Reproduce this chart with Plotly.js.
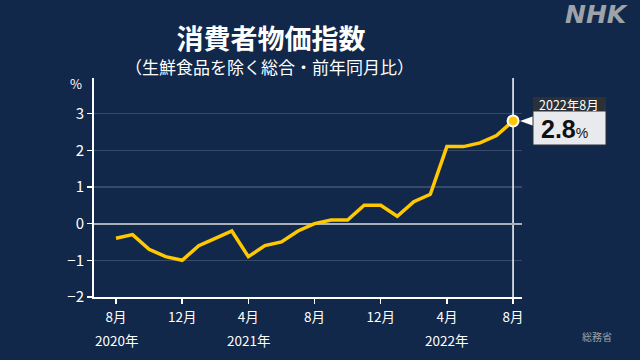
<!DOCTYPE html>
<html>
<head>
<meta charset="utf-8">
<script src="https://cdn.plot.ly/plotly-3.0.1.min.js"></script>
<style>html,body{margin:0;padding:0;background:#11284a;}#chart{width:640px;height:360px;}</style>
</head>
<body>
<div id="chart"></div>
<script>
// Data
var months = ["2020-08","2020-09","2020-10","2020-11","2020-12",
              "2021-01","2021-02","2021-03","2021-04","2021-05","2021-06","2021-07","2021-08","2021-09","2021-10","2021-11","2021-12",
              "2022-01","2022-02","2022-03","2022-04","2022-05","2022-06","2022-07","2022-08"];
var cpi = [-0.4,-0.3,-0.7,-0.9,-1.0,
           -0.6,-0.4,-0.2,-0.9,-0.6,-0.5,-0.2,0.0,0.1,0.1,0.5,0.5,
           0.2,0.6,0.8,2.1,2.1,2.2,2.4,2.8];
var tickMonths = ["2020-08","2020-12","2021-04","2021-08","2021-12","2022-04","2022-08"];
var tickLabels = ["8月","12月","4月","8月","12月","4月","8月"];
var yearMonths = ["2020-08","2021-04","2022-04"];
var yearLabels = ["2020年","2021年","2022年"];
var yTicks = [-2,-1,0,1,2,3];
var latestLabel = "2022年8月";

// Layout helpers (pixel -> paper)
var L = 94, R = 522, T = 78, B = 297;
function px(x){ return (x - L) / (R - L); }
function py(y){ return (B - y) / (B - T); }

var lastIdx = months.length - 1;
var bg = '#11284a';
var font = 'Noto Sans CJK JP, Noto Sans, sans-serif';

var traces = [
  {x: months, y: cpi, type: 'scatter', mode: 'lines',
   line: {color: '#ffc800', width: 3.5}, hoverinfo: 'skip'},
  {x: [months[lastIdx]], y: [cpi[lastIdx]], type: 'scatter', mode: 'markers',
   marker: {color: '#ffc800', size: 11, line: {color: '#ffffff', width: 2}}, hoverinfo: 'skip'}
];

var shapes = [
  {type: 'line', xref: 'x', yref: 'paper', x0: months[lastIdx], x1: months[lastIdx], y0: 0, y1: 1,
   line: {color: '#ffffff', width: 1.5}, layer: 'below'},
  // callout
  {type: 'path', xref: 'paper', yref: 'paper',
   path: 'M' + px(520) + ',' + py(121) + ' L' + px(534) + ',' + py(116) + ' L' + px(534) + ',' + py(126) + ' Z',
   fillcolor: '#ffffff', line: {width: 0}},
  {type: 'rect', xref: 'paper', yref: 'paper', x0: px(533), x1: px(606), y0: py(111), y1: py(97),
   fillcolor: '#2c3137', line: {width: 0}},
  {type: 'rect', xref: 'paper', yref: 'paper', x0: px(533), x1: px(606), y0: py(145), y1: py(111),
   fillcolor: '#e8eaee', line: {color: '#2c3137', width: 1}}
];

var annotations = [
  {text: '（生鮮食品を除く総合・前年同月比）', xref: 'paper', yref: 'paper', x: px(269), y: py(67),
   showarrow: false, font: {family: font, size: 17, color: '#ffffff'}, xanchor: 'center', yanchor: 'middle'},
  {text: '%', xref: 'paper', yref: 'paper', x: px(84), y: py(83), xanchor: 'right', yanchor: 'middle',
   showarrow: false, font: {family: font, size: 13, color: '#ffffff'}},
  {text: '<b><i>NHK</i></b>', xref: 'paper', yref: 'paper', x: px(596), y: py(15), xanchor: 'center', yanchor: 'middle',
   showarrow: false, font: {family: 'DejaVu Sans, sans-serif', size: 25, color: '#9ea3aa'}},
  {text: '総務省', xref: 'paper', yref: 'paper', x: px(597), y: py(336), xanchor: 'center', yanchor: 'middle',
   showarrow: false, font: {family: font, size: 10, color: '#9ea3aa'}},
  {text: latestLabel, xref: 'paper', yref: 'paper', x: px(569), y: py(104), xanchor: 'center', yanchor: 'middle',
   showarrow: false, font: {family: font, size: 12.5, color: '#ffffff'}},
  {text: '<b>' + cpi[lastIdx].toFixed(1) + '</b><span style="font-size:14px">%</span>', xref: 'paper', yref: 'paper',
   x: px(539), y: py(129), xanchor: 'left', yanchor: 'middle',
   showarrow: false, font: {family: 'Liberation Sans, Arial, sans-serif', size: 25, color: '#111111'}}
];
yearMonths.forEach(function(m, i){
  annotations.push({text: yearLabels[i], xref: 'x', yref: 'paper', x: m, y: py(340), xanchor: 'center', yanchor: 'middle',
    showarrow: false, font: {family: font, size: 13.5, color: '#ffffff'}});
});

var layout = {
  width: 640, height: 360,
  paper_bgcolor: bg, plot_bgcolor: bg,
  margin: {l: L, r: 640 - R, t: T, b: 360 - B, pad: 0},
  showlegend: false,
  title: {text: '<b>消費者物価指数</b>', x: 271/640, xanchor: 'center', y: 1 - 40/360, yanchor: 'middle',
          yref: 'container', font: {family: font, size: 27, color: '#ffffff'}},
  xaxis: {type: 'category', range: [-1.33, lastIdx + 0.54], tickmode: 'array', tickvals: tickMonths, ticktext: tickLabels,
          showgrid: false, zeroline: false, showline: true, linecolor: '#ffffff', linewidth: 2,
          ticks: 'outside', ticklen: 5, tickcolor: '#ffffff', tickwidth: 1.5, ticklabelstandoff: 2,
          tickfont: {family: font, size: 13.5, color: '#ffffff'}, fixedrange: true},
  yaxis: {range: [-2, 3.97], tickmode: 'array', tickvals: yTicks, showgrid: true, gridcolor: 'rgba(255,255,255,0.16)', gridwidth: 1.5,
          zeroline: true, zerolinecolor: '#a9b0ba', zerolinewidth: 2,
          showline: true, linecolor: '#ffffff', linewidth: 2,
          ticks: 'outside', ticklen: 5, tickcolor: '#ffffff', tickwidth: 1.5,
          tickfont: {family: font, size: 15, color: '#ffffff'}, fixedrange: true},
  shapes: shapes,
  annotations: annotations
};

Plotly.newPlot('chart', traces, layout, {displayModeBar: false, staticPlot: true});
</script>
</body>
</html>
